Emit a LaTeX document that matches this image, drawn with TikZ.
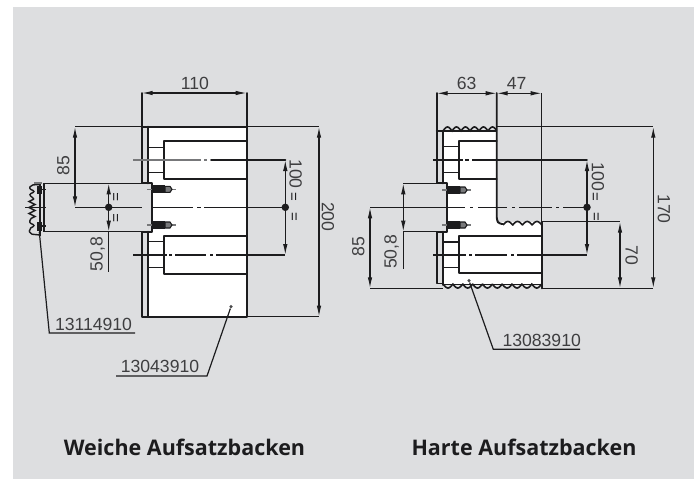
\documentclass[tikz,border=0pt]{standalone}
\usepackage{fontspec}
\setmainfont{Liberation Sans}
\newfontfamily\titlefont{Open Sans}
\usetikzlibrary{arrows.meta}
\definecolor{panel}{HTML}{DDDEE0}
\definecolor{ink}{HTML}{1C1C1E}
\definecolor{soft}{HTML}{77787A}
\tikzset{
  thickline/.style={draw=ink,line width=1.9pt,line cap=round,line join=round},
  thinline/.style={draw=ink,line width=1.2pt},
  softline/.style={draw=soft,line width=1.2pt},
  dimline/.style={draw=ink,line width=1.2pt,{Latex[length=11pt,width=4.5pt]}-{Latex[length=11pt,width=4.5pt]}},
  dimtext/.style={inner sep=0pt,text=ink!85,font=\fontsize{17.6}{17.6}\selectfont},
  eqtext/.style={inner sep=0pt,text=ink,font=\fontsize{15}{15}\selectfont},
  titletext/.style={inner sep=0pt,text=ink,font=\titlefont\bfseries\fontsize{21.5}{26}\selectfont},
  jawfill/.style={fill=white,draw=none},
  toothline/.style={draw=ink,line width=1.6pt},
  dotmark/.style={circle,fill=ink,inner sep=0pt,minimum size=7.5pt},
  smalldot/.style={circle,fill=ink!80,inner sep=0pt,minimum size=3.5pt}
}
\newcommand{\pinmark}[2]{%
  \draw[softline] (#1-5,#2) -- (#1+24,#2);
  \fill[ink] (#1,#2-4) rectangle (#1+13,#2+4);
  \draw[draw=ink,line width=1.1pt,fill=soft] (#1+13,#2-3) -- (#1+18,#2-3) -- (#1+20,#2) -- (#1+18,#2+3) -- (#1+13,#2+3) -- cycle;
}
\begin{document}
\begin{tikzpicture}[x=1pt,y=-1pt]
\useasboundingbox (0,0) rectangle (698,479);
\fill[white] (0,0) rectangle (698,479);
\fill[panel] (13,7) rectangle (694,479);

% ---------- left drawing ----------
\fill[jawfill] (147.7,126.7) rectangle (246.7,316.7);
\fill[panel] (147,183.3) rectangle (151.7,231.7);
% body outline
\draw[thickline] (141.7,93) -- (141.7,183.3) -- (151.7,183.3) -- (151.7,231.7) -- (141.7,231.7) -- (141.7,316.7) -- (246.7,316.7) -- (246.7,93);
\draw[thickline] (147.7,126.7) -- (147.7,183.3);
\draw[thickline] (147.7,231.7) -- (147.7,316.7);
\draw[thickline] (141.7,126.7) -- (246.7,126.7);
% slots
\draw[thickline] (246.7,140.7) -- (164.3,140.7) -- (164.3,179) -- (246.7,179);
\draw[thinline] (147.7,147.3) -- (164.3,147.3) (147.7,172.7) -- (164.3,172.7);
\draw[thickline] (246.7,236) -- (164.3,236) -- (164.3,274) -- (246.7,274);
\draw[thinline] (147.7,241.7) -- (164.3,241.7) (147.7,267.7) -- (164.3,267.7);
% centre lines
\draw[softline] (133,160) -- (201,160) (204,160) -- (207,160);
\draw[thickline] (211,160) -- (285.3,160);
\draw[thinline] (133,255) -- (167,255) (169,255) -- (172,255) (175,255) -- (206,255) (210,255) -- (213,255) (216,255) -- (285.3,255);
\draw[thinline] (75,207.3) -- (142,207.3) (152,207.3) -- (193,207.3) (197,207.3) -- (201,207.3) (204,207.3) -- (285.3,207.3);
% pins
\pinmark{152}{189.3}
\pinmark{152}{225}
% extension and dimension lines
\draw[thinline] (75,126.7) -- (141.7,126.7);
\draw[thinline] (246.7,126.7) -- (319,126.7);
\draw[thinline] (246.7,316.7) -- (319,316.7);
\draw[thinline] (43,183.3) -- (141.7,183.3);
\draw[thinline] (43,231.7) -- (141.7,231.7);
\draw[dimline] (141.7,93) -- (246.7,93);
\node[dimtext] (t110) at (195,83) {110};
\draw[dimline] (75,126.7) -- (75,207.3);
\node[dimtext,rotate=90] (t85a) at (63.3,165.7) {85};
\draw[dimline] (319,126.7) -- (319,316.7);
\node[dimtext,rotate=-90] (t200) at (328,216.7) {200};
\draw[dimline] (285.3,160) -- (285.3,255);
\node[dimtext,rotate=-90] (t100a) at (295.7,174) {100};
\draw[dimline] (108.7,183.3) -- (108.7,231.7);
\draw[thinline] (108.7,231.7) -- (108.7,271.7);
\node[dimtext,rotate=90] (t508a) at (97.7,254) {50,8};
\node[dotmark] (c1) at (285.3,207.3) {};
\node[dotmark] (c2) at (108.7,207.3) {};
\node[eqtext,rotate=90] (e1) at (117,196.7) {=};
\node[eqtext,rotate=90] (e2) at (117,218) {=};
\node[eqtext,rotate=-90] (e3) at (292.5,197.3) {=};
\node[eqtext,rotate=-90] (e4) at (293,217.3) {=};

% soft jaw at far left
\draw[thinline] (44,183.3) -- (44,231.7);
\draw[thinline] (40,184) -- (40,236);
\draw[thinline,line width=1.4pt] (34,199) -- (29,201.5) -- (35,204.5) -- (29,207.5) -- (35,210.5) -- (29,213.5) -- (35,216.5) -- (31,218.5);
\draw[thinline,line width=1.4pt,rounded corners=2pt] (40,184.5) -- (31,185) -- (29,188.5) -- (35,191.5) -- (29,194.5) -- (34,199);
\draw[thinline,line width=1.4pt,rounded corners=2pt] (31,218.5) -- (29,222.5) -- (35,225.5) -- (29,229) -- (30,234) -- (40,235);
\draw[draw=soft,line width=2pt] (34,183) -- (42,183);
\fill[ink] (36.5,186) rectangle (42,193.5);
\fill[ink] (36.5,222) rectangle (42,231);
\draw[thinline] (42,189.5) -- (46,189.5) (42,226) -- (46,226);
\draw[thinline] (25,207.3) -- (46,207.3);
% leaders left
\coordinate (la1) at (39.3,232);
\coordinate (la2) at (49.3,333);
\coordinate (la3) at (135,333);
\draw[thinline] (la1) -- (la2) -- (la3);
\node[dimtext,anchor=base] (p1) at (93.5,330) {13114910};
\node[smalldot] (lb1) at (231,306.7) {};
\coordinate (lb2) at (207,376);
\coordinate (lb3) at (116,376);
\draw[thinline] (lb1) -- (lb2) -- (lb3);
\node[dimtext,anchor=base] (p2) at (160,372) {13043910};

% ---------- right drawing ----------
\fill[jawfill] (442.7,131) -- (496.7,131) -- (496.7,222) -- (541.7,222) -- (541.7,285) -- (442.7,285) -- (442.7,231.7) -- (446.7,231.7) -- (446.7,183.3) -- (442.7,183.3) -- cycle;
% outer lines
\draw[thickline] (436.7,93) -- (436.7,183.3) -- (446.7,183.3) -- (446.7,231.7) -- (436.7,231.7) -- (436.7,283.5) -- (442.7,283.5);
\draw[thickline] (436.7,131) -- (442.7,131) -- (442.7,183.3);
\draw[thickline] (442.7,231.7) -- (442.7,285);
% top and bottom teeth
\draw[toothline,domain=443:496.7,samples=120] plot (\x,{131-4*abs(sin((\x-443)/9*180))});
\draw[toothline,domain=443:541.7,samples=200] plot (\x,{284+4*abs(sin((\x-443)/9.87*180))});
\draw[thinline] (443,284.5) -- (541.7,284.5);
\draw[thinline] (443,131) -- (496.7,131);
\draw[thickline,rounded corners=3pt] (496.7,93) -- (496.7,220) -- (499,224) -- (503,224);
\draw[toothline,domain=503:541.7,samples=100] plot (\x,{225-3.5*abs(sin((\x-503)/9.7*180))});
\draw[thinline] (541.7,93) -- (541.7,222);
\draw[thickline] (541.7,222) -- (541.7,288.3);
% slots
\draw[thickline] (496.7,140.7) -- (459.3,140.7) -- (459.3,179) -- (496.7,179);
\draw[thinline] (442.7,146.7) -- (459.3,146.7) (442.7,172.7) -- (459.3,172.7);
\draw[thickline] (541.7,236) -- (459.3,236) -- (459.3,273) -- (541.7,273);
\draw[thinline] (442.7,242) -- (459.3,242) (442.7,267.7) -- (459.3,267.7);
% centre lines
\draw[thinline] (433,160) -- (463,160) (465,160) -- (469,160) (472,160) -- (510,160);
\draw[thickline] (510,160) -- (587,160);
\draw[thinline] (370,207.3) -- (465,207.3) (470,207.3) -- (473,207.3) (478,207.3) -- (507,207.3) (512,207.3) -- (515,207.3) (519,207.3) -- (552,207.3) (556,207.3) -- (559,207.3) (563,207.3) -- (587,207.3);
\draw[thinline] (433,255) -- (466,255) (469,255) -- (472,255) (475,255) -- (507,255) (511,255) -- (514,255) (517,255) -- (587,255);
% pins
\pinmark{447}{190}
\pinmark{447}{225}
% extension and dimension lines
\draw[thinline] (496.7,126.7) -- (653.3,126.7);
\draw[thinline] (370,288.3) -- (442.7,288.3);
\draw[thinline] (541.7,288.3) -- (653.3,288.3);
\draw[thinline] (403.3,183.3) -- (436.7,183.3);
\draw[thinline] (403.3,231.7) -- (436.7,231.7);
\draw[thinline] (541.7,221.7) -- (620,221.7);
\draw[dimline] (436.7,93.3) -- (496.7,93.3);
\draw[dimline] (496.7,93.3) -- (541.7,93.3);
\node[dimtext] (t63) at (466.7,83) {63};
\node[dimtext] (t47) at (516.7,83) {47};
\draw[dimline] (403.3,183.3) -- (403.3,231.7);
\draw[thinline] (403.3,231.7) -- (403.3,269);
\node[dimtext,rotate=90] (t508b) at (391.7,251.7) {50,8};
\draw[dimline] (370,207.3) -- (370,288.3);
\node[dimtext,rotate=90] (t85b) at (358.3,246.7) {85};
\draw[dimline] (587,160) -- (587,255);
\node[dotmark] (c3) at (587,207.3) {};
\node[dimtext,rotate=-90] (t100b) at (598,176.7) {100};
\node[eqtext,rotate=-90] (e5) at (594,197.3) {=};
\node[eqtext,rotate=-90] (e6) at (595,217.3) {=};
\draw[dimline] (620,221.7) -- (620,288.3);
\node[dimtext,rotate=-90] (t70) at (631.7,255.7) {70};
\draw[dimline] (653.3,126.7) -- (653.3,288.3);
\node[dimtext,rotate=-90] (t170) at (664,209) {170};
% leader right
\node[smalldot] (lc1) at (469,280.7) {};
\coordinate (lc2) at (493.3,349.3);
\coordinate (lc3) at (580,349.3);
\draw[thinline] (lc1) -- (lc2) -- (lc3);
\node[dimtext,anchor=base] (p3) at (541.7,346) {13083910};

% ---------- titles ----------
\node[titletext,anchor=base] (w) at (184.5,455.5) {Weiche Aufsatzbacken};
\node[titletext,anchor=base] (h) at (524,455.5) {Harte Aufsatzbacken};
\end{tikzpicture}
\end{document}
